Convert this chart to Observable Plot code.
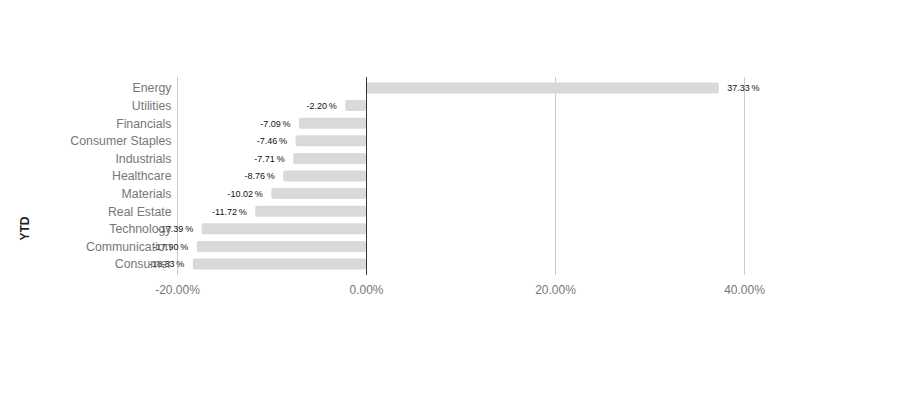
<!DOCTYPE html>
<html>
<head>
<meta charset="utf-8">
<script src="https://cdn.jsdelivr.net/npm/d3@7"></script>
<script src="https://cdn.jsdelivr.net/npm/@observablehq/plot@0.6"></script>
<style>
  html, body { margin: 0; padding: 0; background: #fff; }
  #chart svg { font-family: "Liberation Sans", Arial, sans-serif; }
</style>
</head>
<body>
<div id="chart"></div>
<script>
const sectors = ["Energy", "Utilities", "Financials", "Consumer Staples", "Industrials", "Healthcare", "Materials", "Real Estate", "Technology", "Communication", "Consumer"];
const ytd = [37.33, -2.20, -7.09, -7.46, -7.71, -8.76, -10.02, -11.72, -17.39, -17.90, -18.33];
const xTicks = [-20, 0, 20, 40];
const axisTitle = "YTD";

const data = sectors.map((s, i) => ({sector: s, ytd: ytd[i]}));
const fmt = v => v.toFixed(2) + "%";
const fmtLabel = v => v.toFixed(2) + "\u2009%";

const chart = Plot.plot({
  width: 921,
  height: 396,
  marginLeft: 177,
  marginRight: 82.5,
  marginTop: 77,
  marginBottom: 121,
  style: {fontFamily: "Liberation Sans, Arial, sans-serif", background: "#fff"},
  x: {domain: [-20, 50]},
  y: {domain: sectors, paddingInner: 0.375, paddingOuter: 0.3125, round: false},
  marks: [
    Plot.ruleX(xTicks.filter(d => d !== 0), {stroke: "#cccccc", strokeWidth: 1}),
    Plot.barX(data, {x: "ytd", y: "sector", fill: "#d9d9d9", rx: 2}),
    Plot.ruleX([0], {stroke: "#333333", strokeWidth: 1}),
    Plot.text(data.filter(d => d.ytd >= 0), {x: "ytd", y: "sector", text: d => fmtLabel(d.ytd), textAnchor: "start", dx: 8, fontSize: 9, fill: "#111"}),
    Plot.text(data.filter(d => d.ytd < 0), {x: "ytd", y: "sector", text: d => fmtLabel(d.ytd), textAnchor: "end", dx: -9, fontSize: 9, fill: "#111"}),
    Plot.axisX({ticks: xTicks, tickFormat: fmt, tickSize: 0, tickPadding: 10, fontSize: 12, fill: "#777", label: null}),
    Plot.axisY({tickSize: 0, tickPadding: 6, fontSize: 12.3, fill: "#777", label: null}),
    Plot.text([axisTitle], {frameAnchor: "left", dx: -152, dy: 52, rotate: -90, textAnchor: "middle", fontSize: 12, fontWeight: "bold", fill: "#222"})
  ]
});
document.getElementById("chart").appendChild(chart);
</script>
</body>
</html>
